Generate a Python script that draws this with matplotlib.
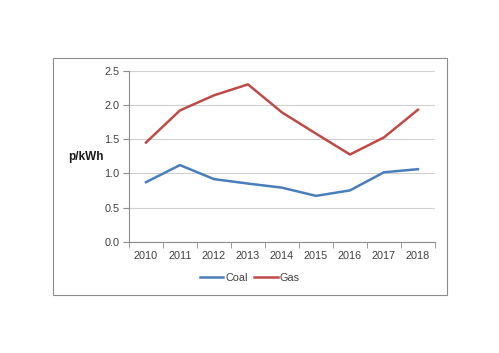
import matplotlib.pyplot as plt
import matplotlib.patches as patches
import numpy as np

plt.rcParams['font.family'] = ['Liberation Sans', 'DejaVu Sans']

years = ['2010', '2011', '2012', '2013', '2014', '2015', '2016', '2017', '2018']
coal = [0.87, 1.12, 0.915, 0.85, 0.79, 0.67, 0.75, 1.015, 1.06]
gas = [1.45, 1.92, 2.14, 2.30, 1.89, 1.58, 1.275, 1.525, 1.93]

fig = plt.figure(figsize=(4.99, 3.53), dpi=100)
fig.patches.append(patches.Rectangle((0.1062, 0.1643), 0.7896, 0.6714, transform=fig.transFigure,
                                     fill=False, edgecolor='#8c8c8c', linewidth=0.8))
ax = fig.add_axes([0.2585, 0.3153, 0.6132, 0.4844])

x = np.arange(len(years))
ax.plot(x, coal, color='#4a7ebb', linewidth=1.8, label='Coal')
ax.plot(x, gas, color='#be4b48', linewidth=1.8, label='Gas')

ax.set_xlim(-0.5, len(years) - 0.5)
ax.set_ylim(0, 2.5)
ax.set_yticks([0, 0.5, 1.0, 1.5, 2.0, 2.5])
ax.set_yticklabels(['0.0', '0.5', '1.0', '1.5', '2.0', '2.5'])
ax.set_xticks(x)
ax.set_xticklabels(years)
ax.set_xticks(np.arange(-0.5, len(years)), minor=True)
ax.tick_params(axis='x', which='major', length=0, pad=7, labelsize=7.8, labelcolor='#404040')
ax.tick_params(axis='x', which='minor', length=4, color='#8c8c8c', direction='out')
ax.tick_params(axis='y', length=4, color='#8c8c8c', labelsize=7.8, labelcolor='#404040', pad=3)
ax.yaxis.grid(True, color='#d0d0d0', linewidth=0.8)
ax.set_axisbelow(True)
for s in ['top', 'right']:
    ax.spines[s].set_visible(False)
ax.spines['left'].set_color('#8c8c8c')
ax.spines['bottom'].set_color('#8c8c8c')
ax.spines['left'].set_linewidth(0.8)
ax.spines['bottom'].set_linewidth(0.8)

fig.text(0.136, 0.555, 'p/kWh', fontsize=8.5, fontweight='bold', color='#1a1a1a', va='center')

fig.legend(loc='center', bbox_to_anchor=(0.5, 0.212), ncol=2, frameon=False, fontsize=7.8,
           handlelength=2.2, handletextpad=0.15, columnspacing=0.6, labelcolor='#404040')

fig.savefig('out.png', dpi=100)
